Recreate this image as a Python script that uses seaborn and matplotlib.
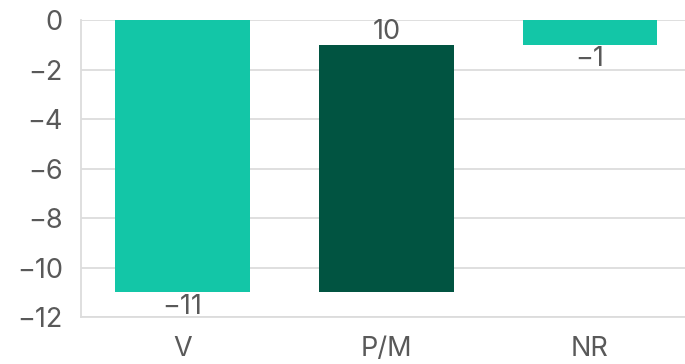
import matplotlib
matplotlib.use("Agg")
import matplotlib.pyplot as plt
import seaborn as sns
import numpy as np
import pandas as pd

categories = ["V", "P/M", "NR"]
deltas = [-11, 10, -1]
bases = [0, -11, 0]
labels = ["\u221211", "10", "\u22121"]
yticks = [0, -2, -4, -6, -8, -10, -12]

LIGHT = "#13C6A7"
DARK = "#015441"
GRID = "#DCDCDC"
TXT = "#595959"

sns.set_theme(style="white")
plt.rcParams["font.family"] = ["Inter", "DejaVu Sans"]
plt.rcParams["axes.unicode_minus"] = True

fig = plt.figure(figsize=(6.85, 3.64), dpi=100)
ax = fig.add_axes([0.118, 0.129, 0.892, 0.816])

df = pd.DataFrame({"cat": categories, "delta": deltas, "base": bases})
sns.barplot(data=df, x="cat", y="delta", bottom=df["base"].values, color=LIGHT,
            width=0.66, ax=ax, saturation=1, zorder=3)

for p, d in zip(ax.patches, deltas):
    p.set_facecolor(DARK if d > 0 else LIGHT)
    p.set_edgecolor("none")

for i, (d, b, lab) in enumerate(zip(deltas, bases, labels)):
    end = b + d
    if d > 0:
        ax.annotate(lab, (i, end), xytext=(0, 0), textcoords="offset points",
                    ha="center", va="bottom", fontsize=19.5, color=TXT, zorder=4)
    else:
        ax.annotate(lab, (i, end), xytext=(0, -1), textcoords="offset points",
                    ha="center", va="top", fontsize=19.5, color=TXT, zorder=4)

ax.set_ylim(-12, 0)
ax.set_xlim(-0.5, 2.5)
ax.set_yticks(yticks)
ax.set_yticklabels([str(t).replace("-", "\u2212") for t in yticks])
ax.yaxis.grid(True, color=GRID, linewidth=1.3, zorder=0)
ax.set_axisbelow(True)
ax.set_xlabel("")
ax.set_ylabel("")
for s in ["top", "right"]:
    ax.spines[s].set_visible(False)
for s in ["left", "bottom"]:
    ax.spines[s].set_color(GRID)
    ax.spines[s].set_linewidth(1.3)
ax.tick_params(axis="both", length=0, labelsize=19.5, labelcolor=TXT)
ax.tick_params(axis="y", pad=13)
ax.tick_params(axis="x", pad=14)

fig.savefig("out.png", dpi=100)
